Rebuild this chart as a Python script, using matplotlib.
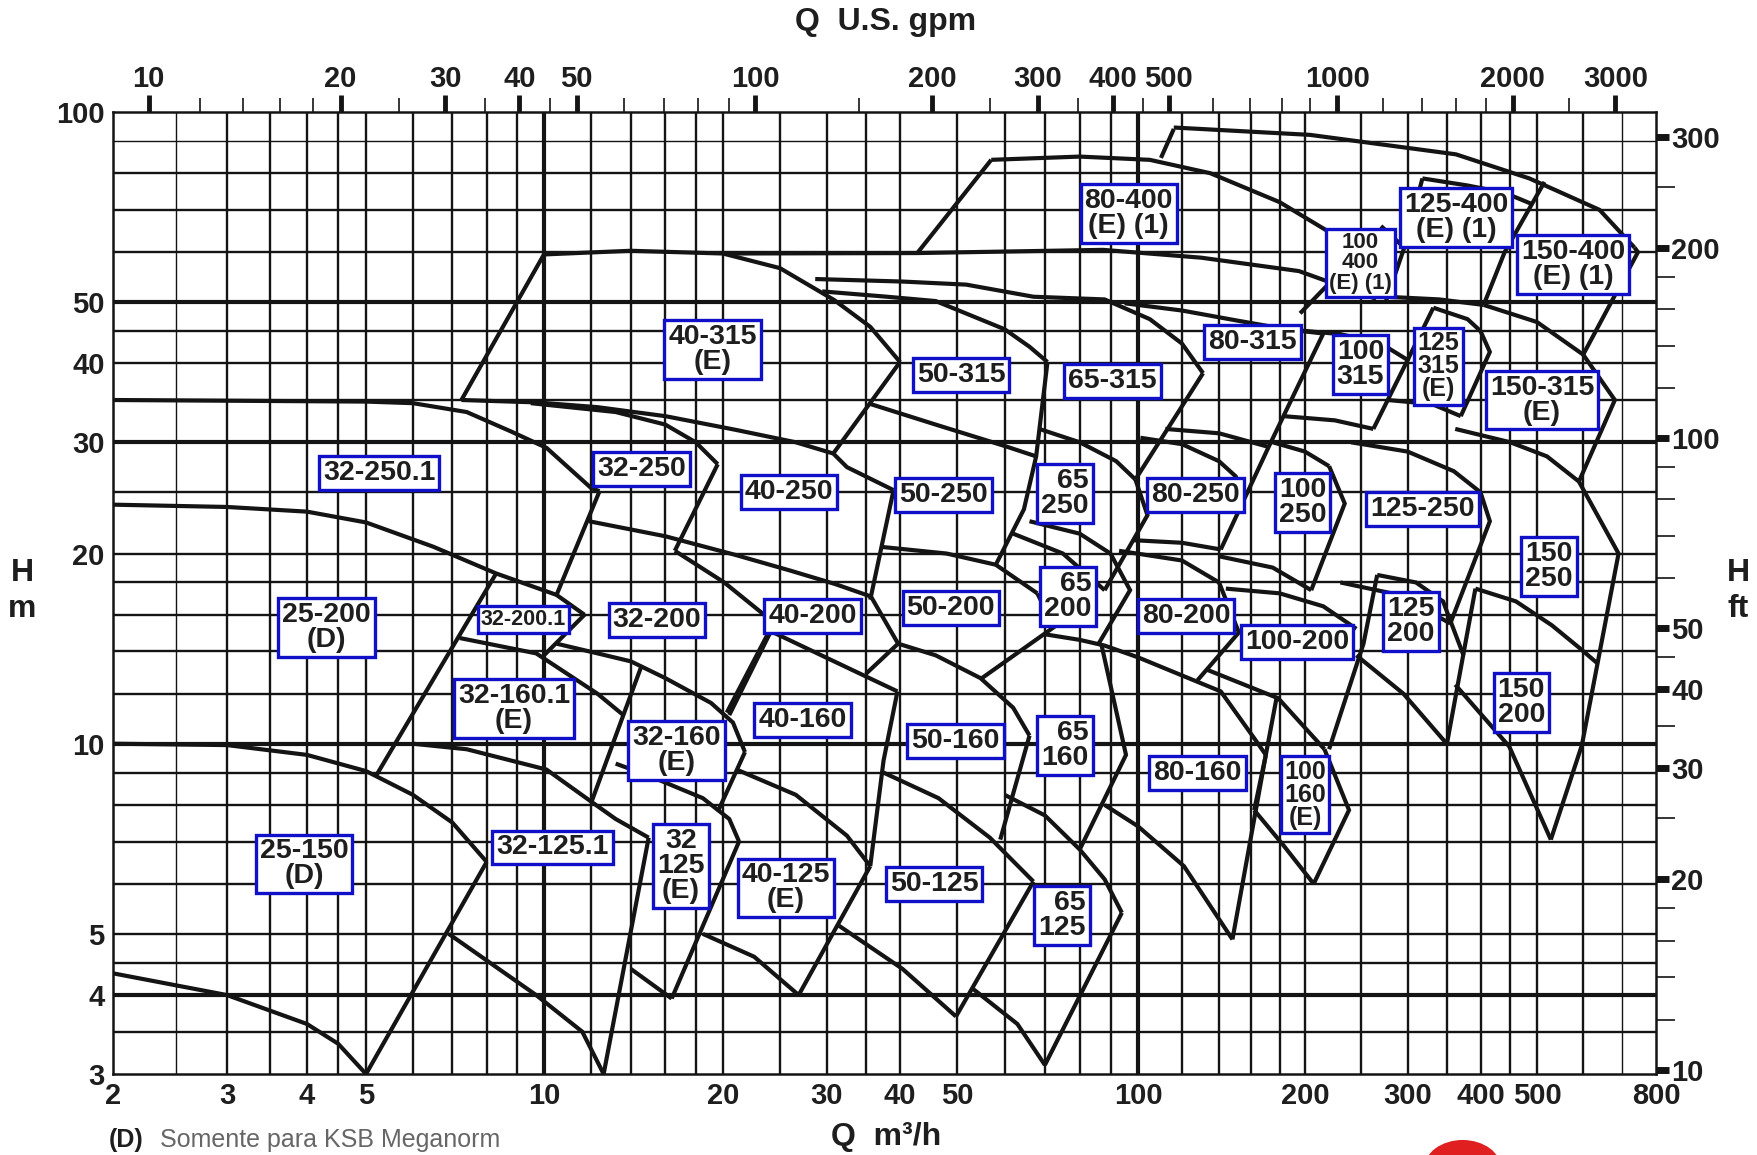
import numpy as np
import matplotlib.pyplot as plt
from matplotlib.patches import Ellipse

# flow axis of the printed sheet is not a clean log scale -> calibrate it on
# the labelled grid lines (m3/h -> fraction of the axis width)
cal_q = [2, 3, 4, 5, 10, 20, 50, 100, 200, 500, 800]
cal_f = [0.0, 0.0739, 0.1257, 0.1640, 0.2793, 0.3953, 0.5470, 0.6643, 0.7725, 0.9229, 1.0]

# grid lines of the sheet
q_grid = [2.5, 3, 3.5, 4, 4.5, 5, 6, 7, 8, 9, 10, 12, 14, 16, 18, 20, 25, 30, 35, 40,
          50, 60, 70, 80, 90, 100, 120, 140, 160, 180, 200, 250, 300, 350, 400, 450,
          500, 600, 700]
h_grid = [3.5, 4, 4.5, 5, 6, 7, 8, 9, 10, 12, 14, 16, 18, 20, 25, 30, 35, 40, 45, 50,
          60, 70, 80, 90]
q_bold = [10, 100]
h_bold = [4, 10, 30, 50]
q_thin = [2.5, 700]
h_thin = [90]

q_ticks = [2, 3, 4, 5, 10, 20, 30, 40, 50, 100, 200, 300, 400, 500, 800]
h_ticks = [3, 4, 5, 10, 20, 30, 40, 50, 100]
gpm_major = [10, 20, 30, 40, 50, 100, 200, 300, 400, 500, 1000, 2000, 3000]
gpm_minor = [12, 14, 16, 18, 25, 35, 45, 60, 70, 80, 90, 150, 250, 350, 450,
             600, 700, 800, 900, 1200, 1400, 1600, 1800, 2500]
ft_major = [10, 20, 30, 40, 50, 100, 200, 300]
ft_minor = [12, 14, 16, 18, 25, 35, 45, 60, 70, 80, 90, 120, 140, 160, 180, 250]

# --- pump curves (Q m3/h, H m) ---
# -125 / -150 sizes
top_25_150 = [(2, 10), (3, 9.95), (4, 9.6), (5, 9.05), (6, 8.3), (7, 7.5), (8, 6.5)]
bot_25_150 = [(2, 4.33), (3, 4.0), (4, 3.6), (4.5, 3.35), (5, 3.0)]
edge_25_150 = [(5, 3.0), (8, 6.5)]
top_32_125_1 = [(6, 10), (7.4, 9.8), (10.1, 9.1), (12, 8.1), (13.2, 7.6), (15, 7.1)]
bot_32_125_1 = [(6.9, 5.0), (9.7, 4.0), (11.6, 3.5), (12.6, 3.0)]
edge_32_125_1 = [(15, 7.1), (12.6, 3.0)]
top_32_125 = [(13.2, 9.3), (15, 8.9), (18.5, 8.2), (20.5, 7.6), (21.3, 7.0)]
edge_32_125 = [(16.4, 3.95), (21.3, 7.0)]
bot_32_125 = [(14, 4.4), (16.4, 3.95)]
top_40_125 = [(21.1, 9.1), (26.6, 8.3), (32.5, 7.15), (35.6, 6.4)]
edge_40_125 = [(35.6, 6.4), (26.9, 4.0)]
bot_40_125 = [(18.5, 5.0), (22.6, 4.6), (26.9, 4.0)]
top_50_125 = [(37.5, 9.0), (46.5, 8.2), (56.7, 7.1), (67, 6.05)]
edge_50_125 = [(67, 6.05), (49.8, 3.7)]
bot_50_125 = [(31.5, 5.15), (40.4, 4.4), (49.8, 3.7)]
top_65_125 = [(60, 8.3), (70, 7.7), (80, 6.8), (88, 6.1), (94, 5.4)]
edge_65_125 = [(94, 5.4), (70, 3.1)]
bot_65_125 = [(53, 4.1), (63, 3.6), (70, 3.1)]

# -160 sizes
edge_32_160_1_left = [(5.2, 8.9), (8.3, 18.6)]
top_32_160_1 = [(7.2, 14.7), (9.7, 13.9), (12.3, 12.0), (13.6, 11.1)]
edge_32_160_1 = [(14.6, 13.3), (13.6, 11.1), (12.0, 8.05)]
top_32_160 = [(10.5, 14.4), (12.3, 13.9), (14, 13.5), (16, 12.7), (19.1, 11.6), (20.8, 10.8),
              (21.8, 9.7)]
edge_32_160 = [(21.8, 9.7), (19.6, 7.8)]
left_40_160 = [(20.3, 11.2), (24, 15.1)]
top_40_160 = [(24, 15.1), (30.9, 13.5), (39.6, 12.1)]
edge_40_160 = [(39.6, 12.1), (37.5, 9.4), (35.6, 6.4)]
top_50_160 = [(39.7, 14.4), (46, 13.8), (54.7, 12.7), (62, 11.4), (66, 10.3)]
edge_50_160 = [(66, 10.3), (59, 7.05)]
top_80_160 = [(70, 14.9), (80, 14.6), (88, 14.3), (100, 13.7), (141, 12.1), (162, 10.2),
              (170, 9.6)]
edge_65_160 = [(87, 14.3), (95.5, 9.6), (80, 6.8)]
edge_80_160 = [(170, 9.6), (148, 4.9)]
bot_80_160 = [(88, 8.0), (100, 7.4), (121, 6.4), (148, 4.9)]
left_100_160 = [(162, 7.85), (170, 9.6), (178, 11.9)]
top_100_160 = [(133, 13.1), (179, 11.8), (216, 9.8)]
edge_100_160 = [(216, 9.8), (238, 7.85), (207, 6.0)]
bot_100_160 = [(162, 7.85), (183, 6.9), (207, 6.0)]

# -200 sizes
top_25_200 = [(2, 23.9), (3, 23.7), (4, 23.3), (5, 22.4), (6.5, 20.5), (8.3, 18.6),
              (10.5, 17.2), (11.7, 16.0)]
edge_32_200_1 = [(11.7, 16.0), (10.0, 13.8)]
top_32_200 = [(16.6, 20.2), (20.1, 18.0), (23.5, 16.0), (24.5, 15.5)]
edge_32_200 = [(24.5, 15.5), (20.5, 11.1)]
edge_40_200 = [(35.7, 17.1), (39.7, 14.4), (35, 12.9)]
top_50_200 = [(37, 20.5), (48, 20.0), (58, 19.2), (68, 17.3)]
edge_50_200 = [(68, 17.3), (72.5, 15.3), (55, 12.7)]
top_65_200 = [(66, 22.5), (80, 21.5), (90, 20)]
edge_65_200 = [(90, 20), (97, 17.5), (86, 14.4)]
top_80_200 = [(93, 20.2), (120, 19.5), (140, 18)]
edge_80_200 = [(140, 18), (152, 15), (128, 12.6)]
top_100_200 = [(144, 17.6), (180, 17.3), (215, 16.5), (245, 15.2)]
left_125_200 = [(220, 9.8), (252, 14.4), (266, 18.5)]
top_125_200 = [(266, 18.5), (310, 18), (345, 16.8), (374, 13.8)]
bot_125_200 = [(245, 13.8), (295, 12.0), (350, 10.0)]
left_150_200 = [(350, 9.95), (392, 17.6)]
edge_150_200 = [(597, 9.95), (528, 7.05)]
bot_150_200 = [(362, 12.4), (448, 9.9), (528, 7.05)]

# -250 sizes
top_32_250_1 = [(2, 35), (5, 34.8), (6, 34.6), (7.4, 33.5), (8.8, 31.2), (10.1, 29.4),
                (12.0, 25.4), (12.4, 25.1)]
edge_32_250_1 = [(12.4, 25.1), (10.5, 17.2)]
top_32_250 = [(9.5, 34.6), (13.2, 33.5), (16, 32.0), (18, 30.0), (19.6, 27.7)]
edge_32_250 = [(19.6, 27.7), (16.6, 20.2)]
bot_40_250 = [(11.9, 22.5), (16, 21.3), (21, 19.9), (26, 18.8), (31, 17.9), (35.7, 17.1)]
edge_40_250 = [(39, 25.2), (35.6, 16.9)]
top_65_250 = [(68.5, 31.5), (80, 30), (92, 28), (99, 26.2)]
edge_65_250 = [(99, 26.2), (104, 23), (88, 17.5)]
bot_65_250 = [(62, 21.5), (75, 20), (88, 17.5)]
top_80_250 = [(101, 30.5), (120, 29.8), (140, 28), (150, 26.5), (156, 24.5)]
bot_80_250 = [(98, 21), (120, 20.8), (141, 20.3)]
top_100_250 = [(175, 30), (200, 29), (220, 27.5)]
edge_100_250 = [(220, 27.5), (234, 24), (205, 17.5)]
bot_100_250 = [(140, 19.8), (175, 19), (205, 17.5)]
top_125_250 = [(240, 30), (300, 29), (360, 27), (400, 25)]
edge_125_250 = [(400, 25), (415, 22.5), (355, 15.5)]
bot_125_250 = [(230, 18), (290, 17.2), (355, 15.5)]
edge_150_250 = [(590, 26), (690, 20), (597, 9.95)]
bot_150_250 = [(392, 17.6), (460, 16.8), (530, 15.4), (590, 14.2), (635, 13.4)]

# -315 sizes
left_40_315 = [(7.25, 35), (10, 59.5)]
top_40_315 = [(10, 59.5), (14, 60.3), (20, 59.7), (25, 56.6), (30.9, 50.4), (35.6, 45.7),
              (40, 40.2)]
edge_40_315 = [(40, 40.2), (30.8, 28.8)]
bot_40_315 = [(7.25, 35), (9.7, 34.7), (12.3, 34.1), (16, 33.0), (21, 31.4), (26.6, 30.0),
              (30.8, 28.8), (32.5, 27.4), (39, 25.2)]
top_50_315 = [(29.5, 52), (38, 51), (46, 50.2), (60, 45.3), (66, 42.5), (70.7, 40.2)]
edge_50_315 = [(70.7, 40.2), (67.7, 28.5), (64.6, 23.5), (58, 19.2)]
bot_50_315 = [(35.6, 34.5), (46, 32), (60, 29.6), (67.7, 28.5)]
top_65_315 = [(28.7, 54.4), (40.4, 53.9), (51.8, 53.3), (67, 51.0), (88, 50.5), (105, 47),
              (120, 43), (131, 38.6)]
edge_65_315 = [(131, 38.6), (99, 26.2)]
top_80_315 = [(95, 49.8), (120, 48.5), (150, 46.8), (185, 45.3), (215, 44.6)]
edge_80_315 = [(215, 44.6), (172, 29.5), (141, 20.3)]
bot_80_315 = [(112, 31.5), (140, 31.0), (172, 29.5)]
top_100_315 = [(190, 45.2), (230, 44.5), (270, 43)]
edge_100_315 = [(270, 43), (300, 40.5), (262, 31.5)]
bot_100_315 = [(183, 33), (225, 32.5), (262, 31.5)]
left_125_315 = [(300, 40.5), (332, 49)]
top_125_315 = [(332, 49), (380, 47), (400, 45)]
edge_125_315 = [(400, 45), (415, 41.7), (370, 33)]
bot_125_315 = [(277, 35), (330, 34.5), (370, 33)]
edge_150_315 = [(600, 41.3), (680, 35), (590, 26)]
bot_150_315 = [(362, 31.5), (450, 30), (520, 28.5), (590, 26)]

# -400 sizes
line_60 = [(20, 59.7), (42.8, 59.8), (87.5, 60.5), (130, 58.8), (195, 56.0), (265, 50.6)]
left_80_400 = [(42.8, 59.8), (57, 84)]
top_80_400 = [(57, 84), (80, 85), (105, 84), (135, 80), (180, 72), (230, 63), (265, 58)]
left_100_400 = [(196, 48), (222, 54)]
edge_100_400 = [(270, 66), (296, 61)]
left_125_400 = [(275, 50), (296, 61), (318, 78.5)]
top_125_400 = [(318, 78.5), (380, 76.5), (440, 74.5), (490, 71.5)]
bot_125_400 = [(275, 51), (340, 50.5), (405, 49.5)]
left_150_400b = [(405, 49.5), (440, 60), (490, 71.5), (515, 77.5)]
left_150_400 = [(110, 84.6), (116, 94)]
top_150_400 = [(116, 94.5), (204, 92), (363, 85.7), (485, 78.5), (640, 70), (735, 61)]
edge_150_400 = [(735, 61), (745, 60), (600, 41.3)]
bot_150_400 = [(405, 49.5), (500, 46.5), (600, 41.3)]

curves = [top_25_150, bot_25_150, edge_25_150, top_32_125_1, bot_32_125_1, edge_32_125_1,
          top_32_125, edge_32_125, bot_32_125, top_40_125, edge_40_125, bot_40_125,
          top_50_125, edge_50_125, bot_50_125, top_65_125, edge_65_125, bot_65_125,
          edge_32_160_1_left, top_32_160_1, edge_32_160_1, top_32_160, edge_32_160,
          left_40_160, top_40_160, edge_40_160, top_50_160, edge_50_160, top_80_160,
          edge_65_160, edge_80_160, bot_80_160, left_100_160, top_100_160, edge_100_160,
          bot_100_160, top_25_200, edge_32_200_1, top_32_200, edge_32_200, edge_40_200,
          top_50_200, edge_50_200, top_65_200, edge_65_200, top_80_200, edge_80_200,
          top_100_200, left_125_200, top_125_200, bot_125_200, left_150_200, edge_150_200,
          bot_150_200, top_32_250_1, edge_32_250_1, top_32_250, edge_32_250, bot_40_250,
          edge_40_250, top_65_250, edge_65_250, bot_65_250, top_80_250, bot_80_250,
          top_100_250, edge_100_250, bot_100_250, top_125_250, edge_125_250, bot_125_250,
          edge_150_250, bot_150_250, left_40_315, top_40_315, edge_40_315, bot_40_315,
          top_50_315, edge_50_315, bot_50_315, top_65_315, edge_65_315, top_80_315,
          edge_80_315, bot_80_315, top_100_315, edge_100_315, bot_100_315, left_125_315,
          top_125_315, edge_125_315, bot_125_315, edge_150_315, bot_150_315,
          line_60, left_80_400, top_80_400, left_100_400, edge_100_400, left_125_400,
          top_125_400, bot_125_400, left_150_400b, left_150_400, top_150_400,
          edge_150_400, bot_150_400]

# --- size labels ---
labels = ["40-315\n(E)", "80-400\n(E) (1)", "125-400\n(E) (1)", "100\n400\n(E) (1)",
          "150-400\n(E) (1)", "50-315", "65-315", "80-315", "100\n315", "125\n315\n(E)",
          "150-315\n(E)", "32-250.1", "32-250", "40-250", "50-250", "65\n250", "80-250",
          "100\n250", "125-250", "150\n250", "25-200\n(D)", "32-200.1", "32-200", "40-200",
          "50-200", "65\n200", "80-200", "100-200", "125\n200", "150\n200", "32-160.1\n(E)",
          "32-160\n(E)", "40-160", "50-160", "65\n160", "80-160", "100\n160\n(E)",
          "25-150\n(D)", "32-125.1", "32\n125\n(E)", "40-125\n(E)", "50-125", "65\n125"]
label_q = [19.2, 96.5, 363, 249, 577, 50.8, 90.6, 161, 249, 339,
           510, 5.26, 14.6, 25.9, 47.4, 75.6, 127,
           198, 318, 524, 4.31, 9.23, 15.5, 28.4,
           48.8, 76.5, 122, 193.5, 304, 470, 8.9,
           16.7, 27.3, 49.7, 75.6, 128, 200,
           3.96, 10.33, 17, 25.6, 45.7, 74.7]
label_h = [42.1, 69, 68, 57.7, 57.3, 38.3, 37.5, 43.3, 39.9, 39.6,
           35, 26.8, 27.2, 25, 24.8, 24.9, 24.8,
           24.1, 23.5, 19.1, 15.3, 15.7, 15.7, 15.9,
           16.4, 17.1, 15.9, 14.5, 15.6, 11.6, 11.35,
           9.74, 10.9, 10.1, 9.93, 9.0, 8.3,
           6.45, 6.85, 6.4, 5.91, 6.0, 5.34]
small_labels = {"32-200.1": 15.5, "100\n400\n(E) (1)": 16, "125\n315\n(E)": 18,
                "100\n160\n(E)": 18}


def q_fwd(q):
    q = np.clip(np.asarray(q, dtype=float), 1e-6, None)
    return np.interp(np.log10(q), np.log10(cal_q), cal_f)


def q_inv(f):
    return 10 ** np.interp(np.asarray(f, dtype=float), cal_f, np.log10(cal_q))


plt.rcParams['font.family'] = ['Liberation Sans', 'DejaVu Sans']
fig = plt.figure(figsize=(17.58, 11.55), dpi=100)
ax = fig.add_axes([113 / 1758, 1 - 1074 / 1155, 1543 / 1758, 962 / 1155])
ax.set_xscale('function', functions=(q_fwd, q_inv))
ax.set_yscale('log')
ax.set_xlim(2, 800)
ax.set_ylim(3, 100)

ink = '#141414'
for q in q_grid:
    lw = 3.0 if q in q_bold else (1.0 if q in q_thin else 1.7)
    ax.axvline(q, color=ink, lw=lw, zorder=1)
for h in h_grid:
    lw = 3.0 if h in h_bold else (1.0 if h in h_thin else 1.7)
    ax.axhline(h, color=ink, lw=lw, zorder=1)
for s in ax.spines.values():
    s.set_linewidth(1.8)
    s.set_color(ink)

for c in curves:
    qq, hh = zip(*c)
    ax.plot(qq, hh, color=ink, lw=3.0, solid_joinstyle='miter', solid_capstyle='butt',
            zorder=3)

for txt, q, h in zip(labels, label_q, label_h):
    align = 'right' if txt.startswith('65\n') else 'center'
    ax.text(q, h, txt, ha='center', va='center', fontsize=small_labels.get(txt, 20.5),
            fontweight='bold', color='#1e1e1e', linespacing=0.95, multialignment=align,
            zorder=5,
            bbox=dict(boxstyle='square,pad=0.14', fc='white', ec='#1010c8', lw=2.4))

tick_font = dict(fontsize=21, fontweight='bold', color='#1e1e1e')
ax.set_xticks(q_ticks)
ax.set_xticklabels([str(v) for v in q_ticks], **tick_font)
ax.xaxis.set_minor_locator(plt.NullLocator())
ax.set_yticks(h_ticks)
ax.set_yticklabels([str(v) for v in h_ticks], **tick_font)
ax.yaxis.set_minor_locator(plt.NullLocator())
ax.tick_params(axis='both', length=0, pad=6)

# U.S. gpm along the top
top = ax.twiny()
top.set_xscale('function', functions=(q_fwd, q_inv))
top.set_xlim(2, 800)
top.set_xticks([g / 4.403 for g in gpm_major])
top.set_xticklabels([str(g) for g in gpm_major], **tick_font)
top.set_xticks([g / 4.403 for g in gpm_minor], minor=True)
top.tick_params(axis='x', which='major', length=12, width=3.5, color=ink, pad=2)
top.tick_params(axis='x', which='minor', length=10, width=1.2, color=ink)
for s in top.spines.values():
    s.set_visible(False)

# feet on the right
right = ax.twinx()
right.set_yscale('log')
right.set_ylim(3, 100)
right.set_yticks([f * 0.3048 for f in ft_major])
right.set_yticklabels([str(f) for f in ft_major], **tick_font)
right.set_yticks([f * 0.3048 for f in ft_minor], minor=True)
right.yaxis.set_minor_formatter(plt.NullFormatter())
right.tick_params(axis='y', which='major', length=9, width=5, color=ink, pad=2)
right.tick_params(axis='y', which='minor', length=14, width=1.2, color=ink)
for s in right.spines.values():
    s.set_visible(False)

axis_font = dict(fontsize=23, fontweight='bold', color='#1e1e1e')
fig.text(0.504, 0.981, 'Q  U.S. gpm', ha='center', va='center', **axis_font)
fig.text(0.504, 0.016, 'Q  m³/h', ha='center', va='center', **axis_font)
fig.text(0.0125, 0.488, 'H\nm', ha='center', va='center', linespacing=1.25, **axis_font)
fig.text(0.9886, 0.488, 'H\nft', ha='center', va='center', linespacing=1.25, **axis_font)

fig.text(0.062, 0.003, '(D)', ha='left', va='bottom', fontsize=18, fontweight='bold',
         color='#1e1e1e')
fig.text(0.091, 0.003, 'Somente para KSB Meganorm', ha='left', va='bottom', fontsize=18,
         color='#666666')
fig.patches.append(Ellipse((0.832, -0.012), 0.044, 0.05, transform=fig.transFigure,
                           fc='#e02020', ec='none'))

fig.savefig('out.png', dpi=100, facecolor='white')
